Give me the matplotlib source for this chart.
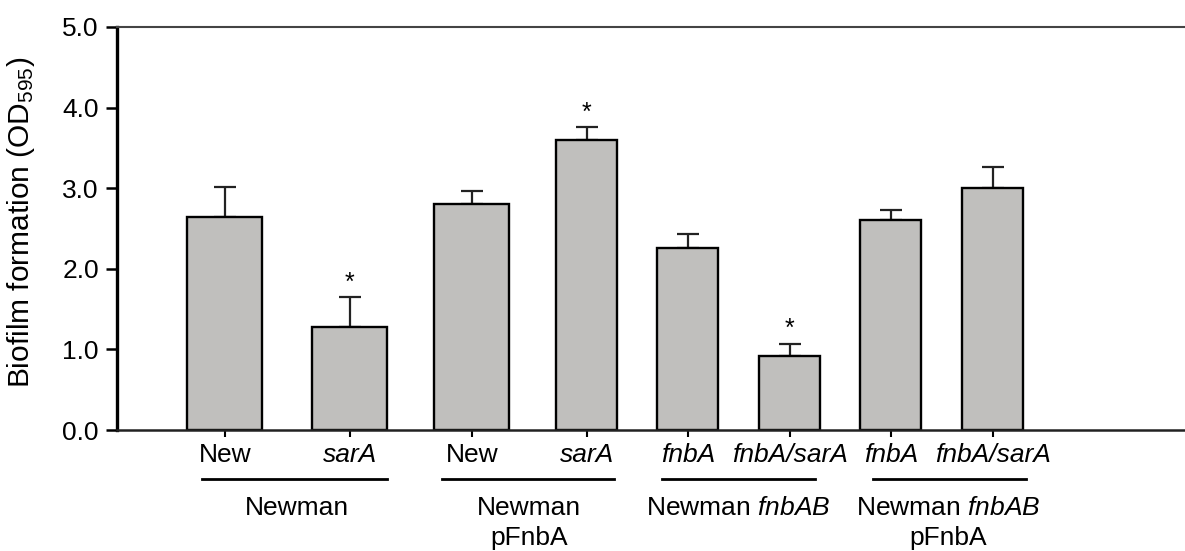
import numpy as np
import matplotlib
matplotlib.use("Agg")
import matplotlib.pyplot as plt

plt.rcParams['font.family'] = ['Liberation Sans', 'DejaVu Sans']
plt.rcParams['mathtext.fontset'] = 'custom'
plt.rcParams['mathtext.rm'] = 'Liberation Sans'
plt.rcParams['mathtext.it'] = 'Liberation Sans:italic'

# data
strains = ["New", "sarA", "New", "sarA", "fnbA", "fnbA/sarA", "fnbA", "fnbA/sarA"]
biofilm = [2.64, 1.28, 2.81, 3.60, 2.26, 0.92, 2.61, 3.00]
sem = [0.37, 0.37, 0.15, 0.16, 0.17, 0.15, 0.12, 0.26]
signif = [False, True, False, True, False, True, False, False]
groups = ["Newman", "Newman\npFnbA", r"Newman $\mathit{fnbAB}$", "Newman $\\mathit{fnbAB}$\npFnbA"]

# layout (bar centres / widths, roughly as in the original panel)
xpos = [0.0, 1.025, 2.025, 2.967, 3.795, 4.631, 5.459, 6.295]
widths = [0.615, 0.615, 0.615, 0.5, 0.5, 0.5, 0.5, 0.5]
group_spans = [(-0.19, 1.33), (1.78, 3.19), (3.58, 4.84), (5.31, 6.57)]
group_mid = [0.59, 2.49, 4.21, 5.93]

fig = plt.figure(figsize=(11.85, 5.51), dpi=100)
ax = fig.add_axes([0.0987, 0.2196, 0.9013, 0.7314])

ax.bar(xpos, biofilm, width=widths, color='#c0bfbd', edgecolor='black', linewidth=1.7, zorder=2)
ax.errorbar(xpos, biofilm, yerr=[np.zeros(len(sem)), sem], fmt='none', ecolor='#222222',
            elinewidth=1.6, capsize=8, capthick=1.6, zorder=1)
for x, y, e, s in zip(xpos, biofilm, sem, signif):
    if s:
        ax.text(x, y + e + 0.03, "*", ha='center', va='bottom', fontsize=18)

ax.set_xlim(-0.885, 7.87)
ax.set_ylim(0, 5.0)
ax.set_yticks(np.arange(0, 5.01, 1.0))
ax.set_yticklabels(["%.1f" % v for v in np.arange(0, 5.01, 1.0)], fontsize=19)
ax.set_xticks(xpos)
ax.set_xticklabels(strains, fontsize=19)
for lab in ax.get_xticklabels():
    if lab.get_text() != "New":
        lab.set_fontstyle('italic')
ax.tick_params(axis='y', length=8, width=1.8, direction='out', pad=5)
ax.tick_params(axis='x', length=5, width=1.5, direction='out', pad=4)
ax.set_ylabel("Biofilm formation (OD$_{595}$)", fontsize=21.5)
ax.yaxis.set_label_coords(-0.075, 0.514)

ax.spines['left'].set_linewidth(2.4)
ax.spines['bottom'].set_linewidth(1.8)
ax.spines['bottom'].set_color('#222222')
ax.spines['top'].set_linewidth(1.5)
ax.spines['top'].set_color('#444444')
ax.spines['right'].set_visible(False)

trans = ax.get_xaxis_transform()
for (a, b), m, g in zip(group_spans, group_mid, groups):
    ax.plot([a, b], [-0.1216, -0.1216], color='black', linewidth=2.0, transform=trans, clip_on=False)
    ax.text(m, -0.164, g, ha='center', va='top', fontsize=19, transform=trans, linespacing=1.3)

fig.savefig("out.png", dpi=100)
